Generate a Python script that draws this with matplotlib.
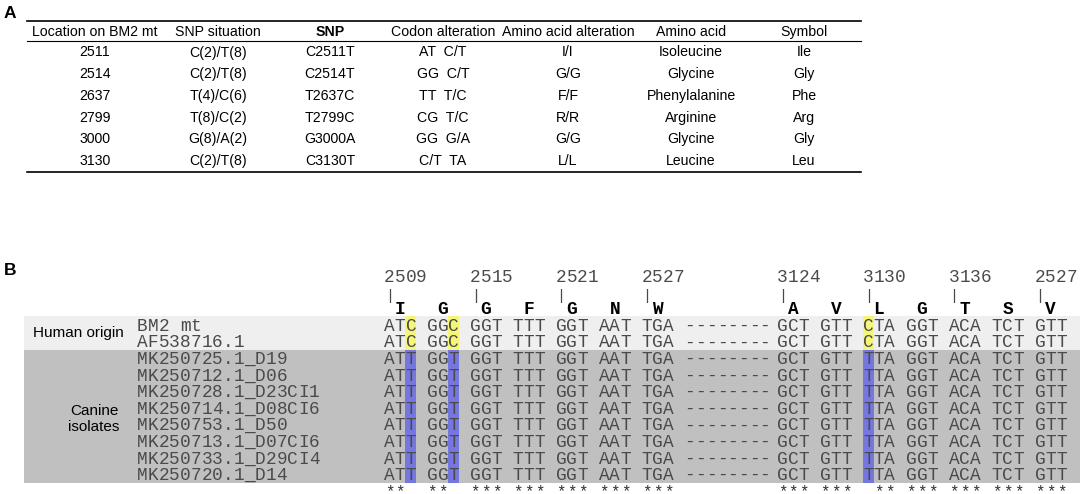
import matplotlib.pyplot as plt
from matplotlib.patches import Rectangle

# ---- panel A: SNP table ----
headers = ['Location on BM2 mt', 'SNP situation', 'SNP', 'Codon alteration',
           'Amino acid alteration', 'Amino acid', 'Symbol']
locations = ['2511', '2514', '2637', '2799', '3000', '3130']
snp_situation = ['C(2)/T(8)', 'C(2)/T(8)', 'T(4)/C(6)', 'T(8)/C(2)', 'G(8)/A(2)', 'C(2)/T(8)']
snps = ['C2511T', 'C2514T', 'T2637C', 'T2799C', 'G3000A', 'C3130T']
codon_alt = ['AT  C/T', 'GG  C/T', 'TT  T/C', 'CG  T/C', 'GG  G/A', 'C/T  TA']
aa_alt = ['I/I', 'G/G', 'F/F', 'R/R', 'G/G', 'L/L']
amino_acid = ['Isoleucine', 'Glycine', 'Phenylalanine', 'Arginine', 'Glycine', 'Leucine']
symbols = ['Ile', 'Gly', 'Phe', 'Arg', 'Gly', 'Leu']

# ---- panel B: alignment ----
seq_names = ['BM2 mt', 'AF538716.1', 'MK250725.1_D19', 'MK250712.1_D06',
             'MK250728.1_D23CI1', 'MK250714.1_D08CI6', 'MK250753.1_D50',
             'MK250713.1_D07CI6', 'MK250733.1_D29CI4', 'MK250720.1_D14']
group_labels = ['Human origin', 'Canine\nisolates']
group_sizes = [2, 8]
left_seqs = ['ATCGGCGGTTTTGGTAATTGA'] * 2 + ['ATTGGTGGTTTTGGTAATTGA'] * 8
right_seqs = ['GCTGTTCTAGGTACATCTGTT'] * 2 + ['GCTGTTTTAGGTACATCTGTT'] * 8
left_aa = 'IGGFGNW'
right_aa = 'AVLGTSV'
left_pos = [2509, 2515, 2521, 2527]
right_pos = [3124, 3130, 3136, 2527]
gap = '--------'

fig = plt.figure(figsize=(10.84, 4.94), dpi=100)
ax = fig.add_axes([0, 0, 1, 1])
ax.set_xlim(0, 1084)
ax.set_ylim(494, 0)
ax.axis('off')

sans = 'Liberation Sans'
mono = 'Liberation Mono'

# ---------------- A ----------------
ax.text(4, 13, 'A', fontsize=12.5, fontweight='bold', family=sans, va='center')
col_x = [95, 218, 330, 443, 568, 691, 804]
columns = [locations, snp_situation, snps, codon_alt, aa_alt, amino_acid, symbols]
ax.plot([27, 861], [21.5, 21.5], color='black', lw=1.2)
ax.plot([27, 861], [41, 41], color='black', lw=0.8)
ax.plot([27, 861], [172, 172], color='black', lw=1.2)
for x, h in zip(col_x, headers):
    ax.text(x, 32, h, fontsize=10.2, family=sans, ha='center', va='center',
            fontweight='bold' if h == 'SNP' else 'normal')
for x, col in zip(col_x, columns):
    for i, v in enumerate(col):
        ax.text(x, 52.5 + 21.7 * i, v, fontsize=10.2, family=sans, ha='center', va='center')

# ---------------- B ----------------
ax.text(4, 270, 'B', fontsize=12.5, fontweight='bold', family=sans, va='center')

pitch = 10.73
x_left = 384
x_right = 777
row_y0 = 325
row_dy = 16.6
mono_size = 12.8
seq_color = '#4a4a4a'


def spaced(s):
    return ' '.join(s[i:i + 3] for i in range(0, len(s), 3))


def draw_mono(x0, y, s, **kw):
    for i, ch in enumerate(s):
        if ch != ' ':
            ax.text(x0 + (i + 0.5) * pitch, y, ch, family=mono, ha='center',
                    va='baseline', **kw)


rows_y = [row_y0 + row_dy * i for i in range(len(seq_names))]

# group bands
band_colors = ['#efefef', '#c0c0c0']
hl_colors = ['#f5f57a', '#7676e0']
label_pos = [(78, 333), (94, 419)]
start = 0
for g, (lab, n) in enumerate(zip(group_labels, group_sizes)):
    top = rows_y[start] - 8.8 + (1 if g > 0 else 0)
    bot = rows_y[start + n - 1] + 8.2
    ax.add_patch(Rectangle((24, top), 1056, bot - top, color=band_colors[g], lw=0, zorder=0))
    # SNP columns highlighted
    for x0, seqs in [(x_left, left_seqs), (x_right, right_seqs)]:
        block = [spaced(s) for s in seqs]
        for c in range(len(block[0])):
            if len(set(b[c] for b in block)) > 1:
                ax.add_patch(Rectangle((x0 + c * pitch, top), pitch, bot - top,
                                       color=hl_colors[g], lw=0, zorder=1))
    ax.text(label_pos[g][0], label_pos[g][1], lab, fontsize=11, family=sans,
            ha='center', va='center', linespacing=1.15)
    start += n

# names and sequences
base_off = 5.8
for y, name, ls, rs in zip(rows_y, seq_names, left_seqs, right_seqs):
    draw_mono(137, y + base_off, name, fontsize=mono_size, color=seq_color, zorder=2)
    draw_mono(x_left, y + base_off, spaced(ls) + ' ' + gap, fontsize=mono_size,
              color=seq_color, zorder=2)
    draw_mono(x_right, y + base_off, spaced(rs), fontsize=mono_size, color=seq_color, zorder=2)

# position numbers, ticks and amino acids
for x0, pos, aa in [(x_left, left_pos, left_aa), (x_right, right_pos, right_aa)]:
    for k, p in enumerate(pos):
        draw_mono(x0 + 8 * k * pitch, 282, str(p), fontsize=mono_size, color='#4a4a4a')
        draw_mono(x0 + 8 * k * pitch, 300, '|', fontsize=mono_size - 2, color='#4a4a4a')
    aa_line = ''.join(' ' + a + '  ' for a in aa)
    draw_mono(x0, 313.5, aa_line, fontsize=mono_size, color='black', fontweight='bold')

# conservation line
for x0, seqs in [(x_left, left_seqs), (x_right, right_seqs)]:
    block = [spaced(s) for s in seqs]
    cons = ''.join('*' if b0 != ' ' and all(b[c] == b0 for b in block) else ' '
                   for c, b0 in enumerate(block[0]))
    draw_mono(x0, 496, cons, fontsize=mono_size - 1.5, color='#333333')

plt.savefig('out.png', dpi=100)
